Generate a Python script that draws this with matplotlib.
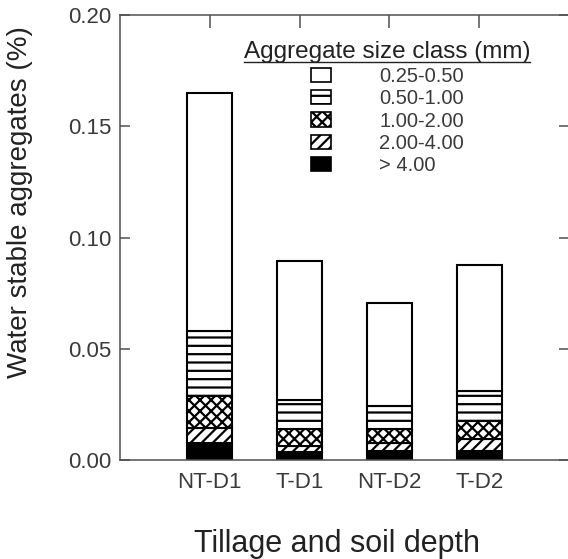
import matplotlib
matplotlib.use("Agg")
import matplotlib.pyplot as plt
from matplotlib.patches import Patch
import numpy as np

plt.rcParams['font.family'] = ['Liberation Sans', 'DejaVu Sans']
plt.rcParams['hatch.linewidth'] = 1.6

treatments = ['NT-D1', 'T-D1', 'NT-D2', 'T-D2']
size_classes = ['> 4.00', '2.00-4.00', '1.00-2.00', '0.50-1.00', '0.25-0.50']

# values per size class (bottom to top of the stack)
gt_4 = [0.0075, 0.0037, 0.0042, 0.0042]
c_2_4 = [0.0071, 0.0028, 0.0033, 0.0051]
c_1_2 = [0.0140, 0.0075, 0.0065, 0.0084]
c_05_1 = [0.0294, 0.0128, 0.0104, 0.0133]
c_025_05 = [0.1070, 0.0627, 0.0460, 0.0566]

series = [gt_4, c_2_4, c_1_2, c_05_1, c_025_05]
styles = [
    dict(facecolor='black', hatch=None),
    dict(facecolor='white', hatch='///'),
    dict(facecolor='white', hatch='xxx'),
    dict(facecolor='white', hatch='--'),
    dict(facecolor='white', hatch=None),
]

text_col = '#3a3a3a'
spine_col = '#505050'

fig = plt.figure(figsize=(5.68, 5.59), dpi=100)
ax = fig.add_axes([120 / 568, 1 - 460 / 559, 449 / 568, 445 / 559])

x = np.arange(len(treatments))
bottom = np.zeros(len(treatments))
for vals, st in zip(series, styles):
    ax.bar(x, vals, 0.5, bottom=bottom, color=st['facecolor'], hatch=st['hatch'],
           edgecolor='black', linewidth=1.5)
    bottom += np.array(vals)

ax.set_xlim(-1, 4)
ax.set_ylim(0, 0.2)
ax.set_yticks([0, 0.05, 0.10, 0.15, 0.20])
ax.set_yticklabels(['0.00', '0.05', '0.10', '0.15', '0.20'])
ax.set_xticks(x)
ax.set_xticklabels(treatments)

ax.tick_params(axis='y', direction='in', left=True, right=True, length=7, width=1.1,
               color=spine_col, labelsize=16, labelcolor=text_col, pad=6)
ax.tick_params(axis='x', direction='in', bottom=False, top=True, length=9, width=1.1,
               color=spine_col, labelsize=16, labelcolor=text_col, pad=9)
for sp in ax.spines.values():
    sp.set_color(spine_col)
    sp.set_linewidth(1.1)

ax.set_ylabel('Water stable aggregates (%)', fontsize=20, color='#222222')
ax.yaxis.set_label_coords(-0.194, 0.58)
ax.set_xlabel('Tillage and soil depth', fontsize=22, color='#222222')
ax.xaxis.set_label_coords(0.483, -0.155)

# legend, top entry first
handles = []
labels = []
for lab, st in reversed(list(zip(size_classes, styles))):
    handles.append(Patch(facecolor=st['facecolor'], hatch=st['hatch'], edgecolor='black', linewidth=1.2))
    labels.append(lab)
leg = ax.legend(handles, labels, loc='upper center', bbox_to_anchor=(0.595, 0.968),
                frameon=False, fontsize=14.5, handlelength=1.0, handleheight=0.7,
                handletextpad=2.4, labelspacing=0.17, borderpad=0.1,
                title='Aggregate size class (mm)', title_fontsize=17.5)
for t in leg.get_texts():
    t.set_color(text_col)
leg.get_title().set_color('#222222')

fig.canvas.draw()
tb = leg.get_title().get_window_extent().transformed(fig.transFigure.inverted())
fig.add_artist(plt.Line2D([tb.x0, tb.x1], [tb.y0 + 0.002, tb.y0 + 0.002],
                          transform=fig.transFigure, color='#222222', linewidth=1.0))

fig.savefig('out.png', dpi=100)
